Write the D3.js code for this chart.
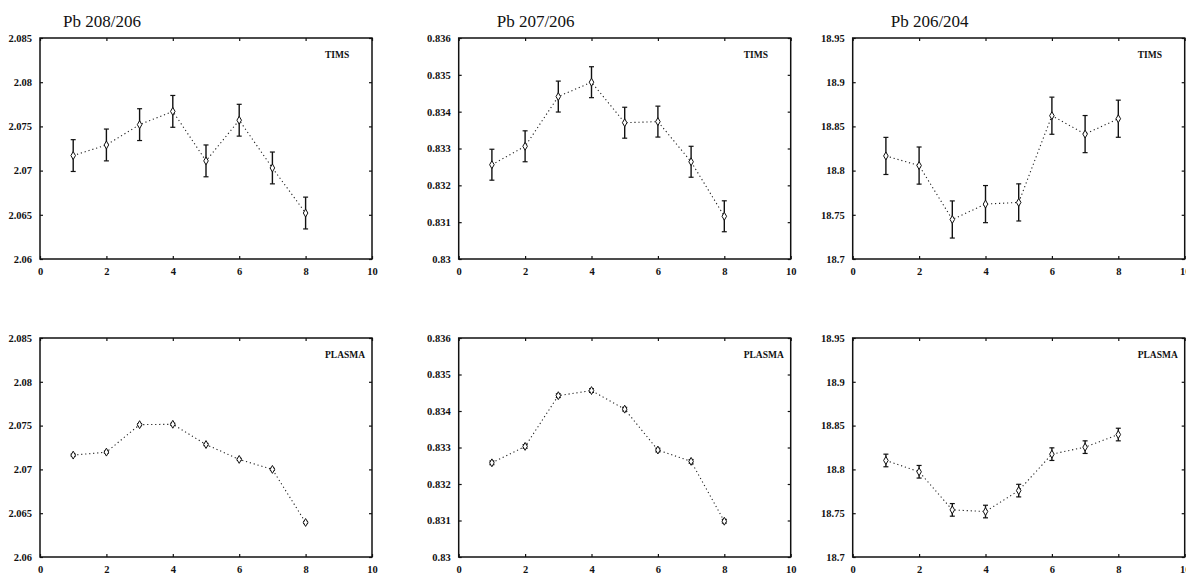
<!DOCTYPE html>
<html>
<head>
<meta charset="utf-8">
<script src="https://cdn.jsdelivr.net/npm/d3@7"></script>
<style>
  body { margin: 0; background: #fff; }
  svg { display: block; }
  .tick text { font-family: "Liberation Serif", serif; font-weight: bold; font-size: 10.5px; fill: #111; }
  .tick line { stroke: #111; stroke-width: 1.2; }
</style>
</head>
<body>
<svg id="chart" width="1186" height="576"></svg>
<script>
// run numbers on the x axis
var runs = [1, 2, 3, 4, 5, 6, 7, 8];
var xTicks = [0, 2, 4, 6, 8, 10];

// column titles
var titles = ["Pb 208/206", "Pb 207/206", "Pb 206/204"];
var rowLabels = ["TIMS", "PLASMA"];

// y ticks for each ratio
var yTicks208 = [2.06, 2.065, 2.07, 2.075, 2.08, 2.085];
var yTicks207 = [0.83, 0.831, 0.832, 0.833, 0.834, 0.835, 0.836];
var yTicks206 = [18.7, 18.75, 18.8, 18.85, 18.9, 18.95];

// TIMS values and errors
var tims208 = [2.0717, 2.0729, 2.0752, 2.0767, 2.0711, 2.0757, 2.0703, 2.0652];
var tims208Err = [0.0018, 0.0018, 0.0018, 0.0018, 0.0018, 0.0018, 0.0018, 0.0018];
var tims207 = [0.83256, 0.83306, 0.83441, 0.83480, 0.83370, 0.83373, 0.83264, 0.83116];
var tims207Err = [0.00042, 0.00042, 0.00042, 0.00042, 0.00042, 0.00042, 0.00042, 0.00042];
var tims206 = [18.8166, 18.8057, 18.7447, 18.7621, 18.7640, 18.8621, 18.8413, 18.8587];
var tims206Err = [0.021, 0.021, 0.021, 0.021, 0.021, 0.021, 0.021, 0.021];

// PLASMA values and errors
var plasma208 = [2.07163, 2.07197, 2.07511, 2.07515, 2.07284, 2.07114, 2.07000, 2.06394];
var plasma208Err = [0.00012, 0.00012, 0.00012, 0.00012, 0.00012, 0.00012, 0.00012, 0.00012];
var plasma207 = [0.83258, 0.83303, 0.83442, 0.83456, 0.83405, 0.83293, 0.83262, 0.83098];
var plasma207Err = [0.00005, 0.00005, 0.00005, 0.00005, 0.00005, 0.00005, 0.00005, 0.00005];
var plasma206 = [18.8102, 18.7973, 18.7538, 18.7519, 18.7758, 18.8174, 18.8254, 18.8398];
var plasma206Err = [0.0072, 0.0072, 0.0072, 0.0072, 0.0072, 0.0072, 0.0072, 0.0072];

var svg = d3.select("#chart");

// layout of the 3x2 grid
var colLeft = [40, 458.7, 852.7];
var titleOffset = [23, 38, 38];
var rowTop = [38, 338];
var rowHeight = [221, 219];
var plotW = 332;

var panels = [
    {row: 0, col: 0, vals: tims208, errs: tims208Err, ticks: yTicks208},
    {row: 0, col: 1, vals: tims207, errs: tims207Err, ticks: yTicks207},
    {row: 0, col: 2, vals: tims206, errs: tims206Err, ticks: yTicks206},
    {row: 1, col: 0, vals: plasma208, errs: plasma208Err, ticks: yTicks208},
    {row: 1, col: 1, vals: plasma207, errs: plasma207Err, ticks: yTicks207},
    {row: 1, col: 2, vals: plasma206, errs: plasma206Err, ticks: yTicks206}
];

// column titles
titles.forEach(function (t, i) {
    svg.append("text")
        .attr("x", colLeft[i] + titleOffset[i])
        .attr("y", 27)
        .attr("font-family", "Liberation Serif, serif")
        .attr("font-size", "17px")
        .attr("fill", "#111")
        .text(t);
});

panels.forEach(function (p) {
    var left = colLeft[p.col], top = rowTop[p.row], h = rowHeight[p.row];
    var g = svg.append("g").attr("transform", "translate(" + left + "," + top + ")");

    var x = d3.scaleLinear().domain([0, 10]).range([0, plotW]);
    var y = d3.scaleLinear().domain(d3.extent(p.ticks)).range([h, 0]);
    var fmt = function (d) { return String(+d.toFixed(4)); };

    // axes with inward ticks, all four sides
    g.append("g")
        .call(d3.axisLeft(y).tickValues(p.ticks).tickFormat(fmt).tickSizeInner(-3).tickSizeOuter(0).tickPadding(8))
        .call(function (a) { a.select(".domain").remove(); });
    g.append("g").attr("transform", "translate(" + plotW + ",0)")
        .call(d3.axisRight(y).tickValues(p.ticks).tickFormat("").tickSizeInner(-3).tickSizeOuter(0))
        .call(function (a) { a.select(".domain").remove(); });
    g.append("g").attr("transform", "translate(0," + h + ")")
        .call(d3.axisBottom(x).tickValues(xTicks).tickFormat(d3.format("d")).tickSizeInner(-3).tickSizeOuter(0).tickPadding(9))
        .call(function (a) { a.select(".domain").remove(); });
    g.append("g")
        .call(d3.axisTop(x).tickValues(xTicks).tickFormat("").tickSizeInner(-3).tickSizeOuter(0))
        .call(function (a) { a.select(".domain").remove(); });

    // frame
    g.append("rect")
        .attr("width", plotW).attr("height", h)
        .attr("fill", "none").attr("stroke", "#111").attr("stroke-width", 1.5);

    var pts = runs.map(function (r, i) { return {x: r, y: p.vals[i], e: p.errs[i]}; });

    // dotted connecting line
    var line = d3.line().x(function (d) { return x(d.x); }).y(function (d) { return y(d.y); });
    g.append("path").datum(pts)
        .attr("d", line)
        .attr("fill", "none")
        .attr("stroke", "#222")
        .attr("stroke-width", 1.1)
        .attr("stroke-dasharray", "1.2,2.8");

    // error bars
    var eb = g.selectAll(".err").data(pts).enter().append("g").attr("class", "err");
    eb.append("line")
        .attr("x1", function (d) { return x(d.x); }).attr("x2", function (d) { return x(d.x); })
        .attr("y1", function (d) { return y(d.y + d.e); }).attr("y2", function (d) { return y(d.y - d.e); })
        .attr("stroke", "#111").attr("stroke-width", 1.4);
    [1, -1].forEach(function (s) {
        eb.append("line")
            .attr("x1", function (d) { return x(d.x) - 2.5; }).attr("x2", function (d) { return x(d.x) + 2.5; })
            .attr("y1", function (d) { return y(d.y + s * d.e); }).attr("y2", function (d) { return y(d.y + s * d.e); })
            .attr("stroke", "#111").attr("stroke-width", 1.2);
    });

    // diamond markers
    g.selectAll(".pt").data(pts).enter().append("path")
        .attr("class", "pt")
        .attr("transform", function (d) { return "translate(" + x(d.x) + "," + y(d.y) + ")"; })
        .attr("d", d3.symbol().type(d3.symbolDiamond).size(18))
        .attr("fill", "#fff").attr("stroke", "#111").attr("stroke-width", 1);

    // series label
    g.append("text")
        .attr("x", 285)
        .attr("y", 20)
        .attr("font-family", "Liberation Serif, serif")
        .attr("font-weight", "bold")
        .attr("font-size", "9.5px")
        .attr("fill", "#111")
        .text(rowLabels[p.row]);
});
</script>
</body>
</html>
